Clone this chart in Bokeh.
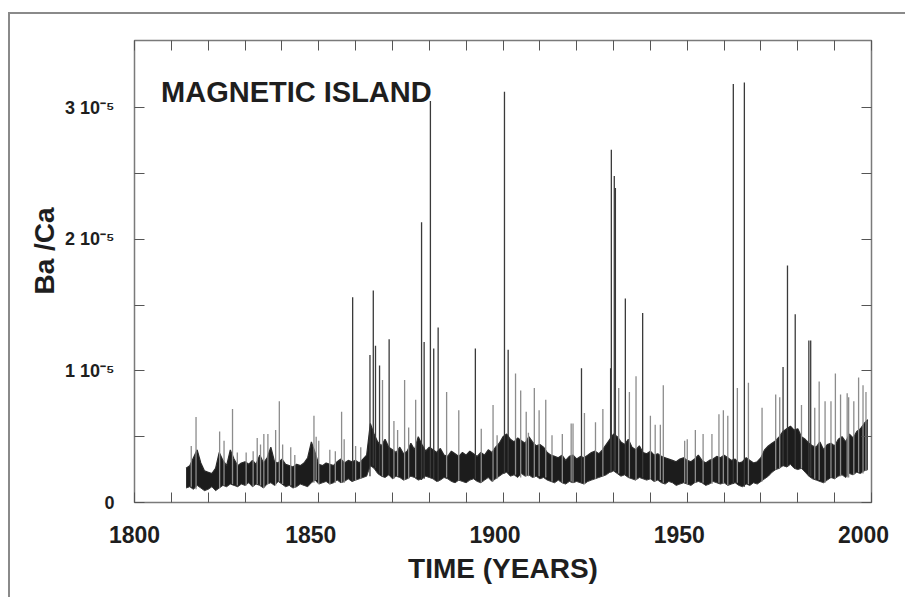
import numpy as np
from bokeh.plotting import figure
from bokeh.models import (Range1d, FixedTicker, LinearAxis, Label, Title,
                          CustomJSTickFormatter, ColumnDataSource)
from bokeh.embed import file_html
from bokeh.resources import INLINE

# ---------------- data (Ba/Ca in units of 1e-6) ----------------
years = list(range(1814, 2000))

band_low = [
    1.1, 1.2, 1.0, 1.3, 1.1, 0.9,
    1.0, 1.2, 0.9, 1.1, 1.3, 1.2, 1.4, 1.3, 1.2, 1.4,
    1.3, 1.5, 1.2, 1.4, 1.3, 1.1, 1.4, 1.5, 1.3, 1.6,
    1.4, 1.2, 1.3, 1.1, 1.2, 1.4, 1.3, 1.2, 1.5, 1.7,
    1.4, 1.5, 1.6, 1.4, 1.5, 1.7, 1.5, 1.6, 1.8, 1.6,
    1.7, 1.8, 1.9, 2.0, 2.8, 2.6, 2.2, 2.0, 1.9, 2.1,
    1.8, 2.0, 1.9, 1.7, 1.8, 2.0, 1.9, 1.7, 1.8, 2.0,
    1.9, 1.8, 1.6, 1.7, 1.9, 1.8, 1.6, 1.5, 1.7, 1.6,
    1.5, 1.7, 1.8, 1.6, 1.5, 1.7, 1.9, 1.6, 1.8, 2.0,
    2.2, 2.3, 2.0, 2.1, 1.9, 2.2, 2.0, 2.1, 1.9, 2.0,
    1.8, 1.9, 1.7, 1.6, 1.5, 1.7, 1.5, 1.4, 1.6, 1.5,
    1.6, 1.5, 1.4, 1.6, 1.7, 1.8, 1.9, 2.0, 2.1, 2.3,
    2.4, 2.2, 2.0, 2.1, 1.9, 1.8, 1.7, 1.9, 1.8, 1.7,
    1.8, 1.6, 1.7, 1.5, 1.4, 1.6, 1.5, 1.3, 1.4, 1.5,
    1.4, 1.3, 1.5, 1.6, 1.5, 1.3, 1.4, 1.6, 1.5, 1.4,
    1.5, 1.3, 1.4, 1.5, 1.3, 1.2, 1.4, 1.3, 1.5, 1.4,
    1.6, 1.8, 2.0, 2.3, 2.5, 2.6, 2.8, 2.7, 2.9, 2.6,
    2.5, 2.6, 2.3, 2.0, 1.8, 1.7, 1.6, 1.5, 1.7, 1.9,
    1.8, 2.0, 2.1, 1.9, 2.2, 2.1, 2.3, 2.2, 2.4, 2.5,
]

band_high = [
    2.6, 2.8, 3.4, 4.0, 3.0, 2.4,
    2.3, 2.2, 2.6, 3.8, 3.2, 2.8, 4.0, 3.3, 2.8, 3.0,
    3.1, 2.9, 3.2, 2.9, 3.6, 3.0, 3.4, 4.2, 3.1, 3.0,
    3.3, 2.9, 2.8, 2.7, 2.9, 2.8, 3.0, 3.4, 4.6, 3.8,
    2.9, 2.8, 3.0, 2.9, 2.8, 3.1, 3.3, 3.0, 3.2, 3.1,
    3.2, 3.0, 3.3, 3.6, 6.0, 5.2, 4.6, 4.3, 4.8, 4.2,
    4.0, 3.8, 4.2, 3.7, 3.9, 4.5, 4.0, 5.0, 4.4, 3.9,
    4.2, 4.0, 3.8, 4.1, 3.6, 3.5, 3.9, 3.7, 3.5, 3.8,
    3.6, 3.9, 3.7, 3.5, 3.8, 3.6, 4.0, 3.8, 4.2, 4.5,
    5.0, 5.2, 4.8, 4.6, 4.9, 4.7, 4.5, 5.0, 4.6, 4.3,
    4.4, 4.2, 3.8, 3.6, 3.5, 3.4, 3.6, 3.2, 3.5, 3.6,
    3.3, 3.5, 3.4, 3.6, 3.8, 3.9, 3.7, 4.0, 4.4, 4.8,
    5.2, 5.0, 4.6, 4.4, 4.8, 4.2, 4.0, 4.3, 3.8, 3.7,
    3.9, 3.6, 3.7, 3.5, 3.4, 3.3, 3.2, 3.1, 3.3, 3.4,
    3.2, 3.1, 3.3, 3.6, 3.2, 3.0, 3.2, 3.3, 3.5, 3.4,
    3.6, 3.4, 3.2, 3.3, 3.0, 3.1, 3.4, 3.2, 3.0, 3.1,
    3.4, 4.0, 4.3, 4.5, 4.7, 5.0, 5.4, 5.6, 5.8, 5.5,
    5.6, 5.0, 4.8, 4.5, 4.3, 4.2, 4.6, 4.0, 4.4, 4.5,
    4.3, 4.8, 5.0, 4.6, 5.2, 4.9, 5.4, 5.6, 6.0, 6.3,
]

spike_year = [
    1815.4, 1816.7, 1823.1, 1824.3, 1826.6, 1827.9, 1830.3, 1832.2, 1833.3, 1834.2,
    1835.1, 1836.2, 1838.3, 1839.3, 1840.2, 1842.4, 1843.5, 1848.7, 1849.3, 1850.0,
    1853.0, 1854.5, 1856.2, 1856.9, 1859.2, 1860.0, 1861.4, 1863.9, 1864.8, 1865.4,
    1866.5, 1867.3, 1869.1, 1870.4, 1871.4, 1873.3, 1874.4, 1876.3, 1877.9, 1878.6,
    1880.3, 1881.2, 1882.4, 1884.7, 1888.0, 1892.5, 1894.1, 1897.3, 1898.4, 1900.4,
    1901.4, 1903.4, 1904.8, 1906.3, 1906.9, 1908.5, 1909.8, 1911.6, 1913.3, 1916.1,
    1918.5, 1919.0, 1921.3, 1922.1, 1925.1, 1927.1, 1929.2, 1929.4, 1930.2, 1930.5,
    1931.4, 1933.2, 1934.3, 1936.1, 1937.9, 1940.0, 1941.3, 1942.7, 1943.5, 1949.3,
    1950.0, 1952.2, 1954.3, 1956.7, 1958.6, 1959.8, 1961.0, 1962.5, 1963.6, 1965.5,
    1966.6, 1970.3, 1974.0, 1975.1, 1976.0, 1977.2, 1979.3, 1981.0, 1983.0, 1983.5,
    1984.6, 1985.8, 1987.4, 1989.0, 1990.2, 1991.6, 1993.4, 1993.8, 1995.2, 1996.5,
    1997.7, 1998.5,
]
spike_top = [
    4.3, 6.5, 5.4, 4.7, 7.1, 3.8, 3.8, 3.9, 4.9, 4.4,
    5.2, 5.2, 5.5, 7.7, 4.4, 4.2, 3.6, 6.6, 5.0, 4.7,
    4.0, 3.9, 6.9, 4.8, 15.6, 4.3, 4.2, 11.2, 16.1, 11.9,
    10.4, 9.3, 12.4, 6.2, 5.5, 9.3, 5.7, 7.8, 21.3, 12.2,
    30.5, 11.7, 13.3, 8.4, 7.0, 11.7, 5.6, 7.4, 5.1, 31.2,
    11.6, 9.8, 8.5, 6.9, 5.3, 8.7, 7.0, 7.8, 5.1, 5.2,
    6.0, 6.0, 10.2, 6.8, 6.1, 7.1, 10.2, 26.8, 24.8, 23.9,
    8.7, 15.5, 8.4, 9.6, 14.4, 6.6, 5.9, 5.9, 8.9, 4.7,
    4.8, 5.5, 5.2, 5.2, 6.7, 7.0, 6.6, 31.8, 8.7, 31.9,
    9.1, 7.2, 8.2, 8.0, 10.3, 18.0, 14.3, 7.4, 12.3, 12.3,
    7.2, 9.2, 7.7, 7.7, 9.8, 8.2, 8.3, 8.0, 7.7, 9.5,
    8.9, 8.4,
]

x_minor_ticks = list(range(1800, 2001, 10))
x_label_years = [1800, 1850, 1900, 1950, 2000]
x_tick_labels = ["1800", "1850", "1900", "1950", "2000"]
y_label_values = [0, 10, 20, 30]
y_tick_labels = ["0", "1 10\u207b\u2075", "2 10\u207b\u2075", "3 10\u207b\u2075"]
y_minor_ticks = [5, 15, 25]

# ---------------- styling ----------------
FONT = "Liberation Sans"
TXT = "#1e1e1e"
TICK = "#555555"
LABEL_SHIFT = 2.17   # labels in the original sit ~8px left of their tick

p = figure(frame_width=737, frame_height=462,
           x_range=Range1d(1800, 2000), y_range=Range1d(0, 35.1),
           x_axis_type=None, y_axis_type=None,
           output_backend="svg", toolbar_location=None,
           min_border_left=124, min_border_right=34,
           min_border_top=26, min_border_bottom=95)
p.grid.visible = False
p.outline_line_color = "#7a7a7a"
p.outline_line_width = 1.5
p.background_fill_color = "white"
p.border_fill_color = "white"
p.styles = {"border-left": "2px solid #8a8a8a",
            "border-top": "2px solid #8a8a8a",
            "margin-top": "12px",
            "margin-left": "8px"}

# band (dense part of the record)
band = ColumnDataSource(dict(x=years, lo=band_low, hi=band_high))
p.varea(x="x", y1="lo", y2="hi", source=band, fill_color="#1c1c1c")
p.line(x="x", y="hi", source=band, line_color="#2a2a2a", line_width=1.2)
p.line(x="x", y="lo", source=band, line_color="#3a3a3a", line_width=1.0)

# spikes
base = [band_low[int(y) - years[0]] for y in spike_year]
colors = ["#3a3a3a" if t >= 10 else "#8c8c8c" for t in spike_top]
spikes = ColumnDataSource(dict(x=spike_year, y0=base, y1=spike_top, c=colors))
p.segment(x0="x", y0="y0", x1="x", y1="y1", source=spikes,
          line_color="c", line_width=1.3)


def tick_style(ax):
    ax.major_tick_in = 10
    ax.major_tick_out = 0
    ax.minor_tick_in = 10
    ax.minor_tick_out = 0
    ax.major_tick_line_color = TICK
    ax.minor_tick_line_color = TICK
    ax.major_tick_line_width = 1
    ax.minor_tick_line_width = 1
    ax.axis_line_color = None


def no_ticks(ax):
    ax.major_tick_line_color = None
    ax.minor_tick_line_color = None
    ax.axis_line_color = None


blank = CustomJSTickFormatter(code="return ''")

# left axis with tick labels
yl = LinearAxis(ticker=FixedTicker(ticks=y_label_values, minor_ticks=y_minor_ticks),
                major_label_overrides=dict(zip(y_label_values, y_tick_labels)))
tick_style(yl)
yl.major_label_standoff = 20
yl.major_label_text_font = FONT
yl.major_label_text_font_style = "bold"
yl.major_label_text_font_size = "18px"
yl.major_label_text_color = TXT
p.add_layout(yl, "left")

# y title: placed a little above the frame centre
p.add_layout(Title(text="Ba /Ca", align="left", offset=208, standoff=5,
                   text_font=FONT, text_font_style="bold",
                   text_font_size="28px", text_color=TXT), "left")

# right axis (ticks only)
yr = LinearAxis(ticker=FixedTicker(ticks=y_label_values, minor_ticks=y_minor_ticks),
                formatter=blank)
tick_style(yr)
yr.major_label_text_font_size = "1px"
yr.major_label_standoff = 0
p.add_layout(yr, "right")

# top axis (ticks only)
xt = LinearAxis(ticker=FixedTicker(ticks=x_minor_ticks), formatter=blank)
tick_style(xt)
xt.major_label_text_font_size = "1px"
xt.major_label_standoff = 0
p.add_layout(xt, "above")

# bottom axis: ticks
xb = LinearAxis(ticker=FixedTicker(ticks=x_minor_ticks), formatter=blank)
tick_style(xb)
xb.major_label_text_font_size = "1px"
xb.major_label_standoff = 0
p.add_layout(xb, "below")

# bottom axis: labels (first one cannot move outside the frame)
label_pos = [x_label_years[0]] + [y - LABEL_SHIFT for y in x_label_years[1:]]
xl = LinearAxis(ticker=FixedTicker(ticks=label_pos),
                major_label_overrides=dict(zip(label_pos, x_tick_labels)))
no_ticks(xl)
xl.major_label_standoff = 17
xl.major_label_text_font = FONT
xl.major_label_text_font_style = "bold"
xl.major_label_text_font_size = "23px"
xl.major_label_text_color = TXT
xl.axis_label = "TIME (YEARS)"
xl.axis_label_text_font = FONT
xl.axis_label_text_font_style = "bold"
xl.axis_label_text_font_size = "28px"
xl.axis_label_text_color = TXT
xl.axis_label_standoff = 7
p.add_layout(xl, "below")

# panel title
p.add_layout(Label(x=1807.2, y=31.17, text="MAGNETIC ISLAND",
                   text_align="left", text_baseline="alphabetic",
                   text_font=FONT, text_font_style="bold",
                   text_font_size="29px", text_color=TXT))

open("out.html", "w").write(file_html(p, INLINE))
